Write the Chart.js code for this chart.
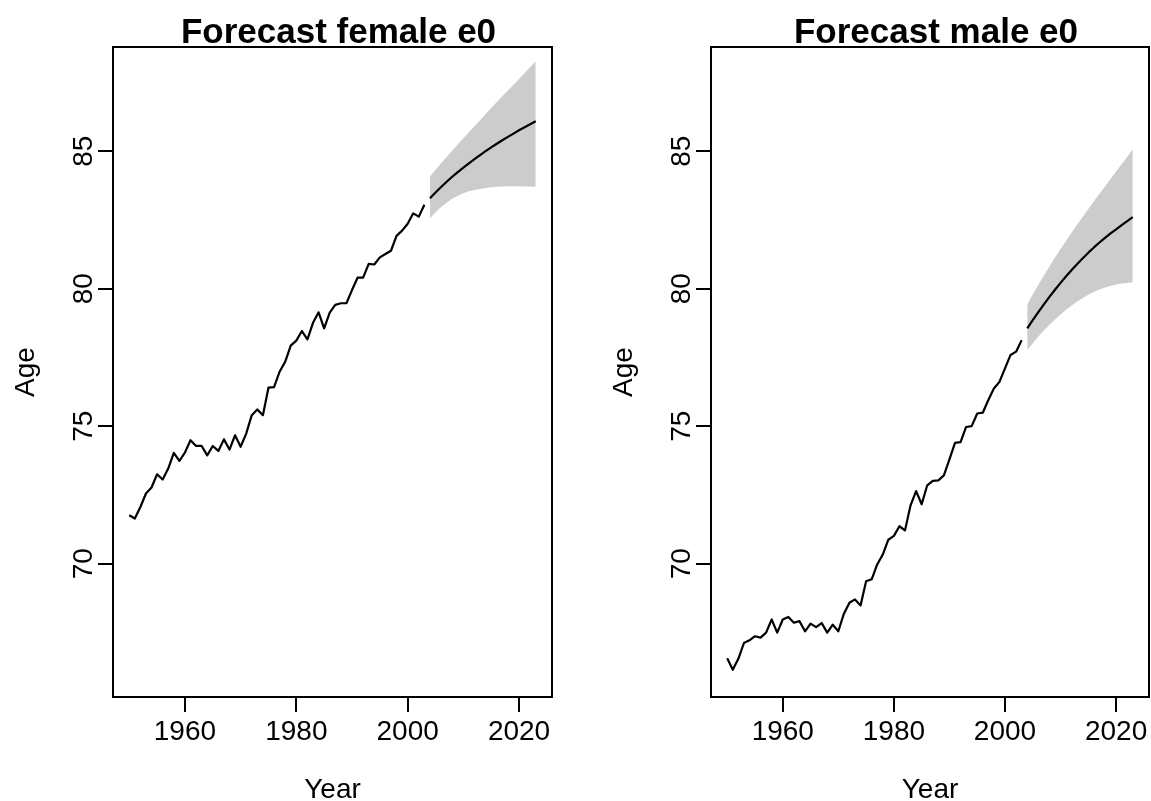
<!DOCTYPE html>
<html>
<head>
<meta charset="utf-8">
<script src="https://cdn.jsdelivr.net/npm/chart.js@4/dist/chart.umd.min.js"></script>
<style>
  html, body { margin: 0; padding: 0; background: #fff; }
  body { width: 1151px; height: 801px; position: relative; overflow: hidden; }
  canvas { position: absolute; top: 0; }
</style>
</head>
<body>
<canvas id="c1" width="576" height="801" style="left:0px"></canvas>
<canvas id="c2" width="575" height="801" style="left:576px"></canvas>
<script>
// ---------------- data ----------------
const histStart = 1950;
const fcStart = 2004;

const femaleHist = [
  71.76, 71.64, 72.06, 72.55, 72.77, 73.25, 73.06, 73.46, 74.03, 73.74,
  74.04, 74.49, 74.28, 74.28, 73.94, 74.28, 74.10, 74.52, 74.15, 74.67,
  74.25, 74.73, 75.40, 75.61, 75.40, 76.40, 76.42, 76.98, 77.34, 77.93,
  78.11, 78.46, 78.16, 78.76, 79.14, 78.56, 79.13, 79.41, 79.47, 79.47,
  79.95, 80.40, 80.40, 80.90, 80.88, 81.14, 81.26, 81.38, 81.92, 82.11,
  82.36, 82.74, 82.62, 83.05
];
const femaleMean = [
  83.29, 83.50, 83.70, 83.89, 84.07, 84.24, 84.40, 84.56, 84.71, 84.86,
  85.00, 85.14, 85.27, 85.40, 85.52, 85.64, 85.76, 85.87, 85.98, 86.09
];
const femaleUpper = [
  84.08, 84.32, 84.56, 84.79, 85.02, 85.25, 85.47, 85.69, 85.91, 86.13,
  86.35, 86.57, 86.79, 87.00, 87.21, 87.42, 87.63, 87.84, 88.06, 88.27
];
const femaleLower = [
  82.56, 82.78, 82.97, 83.13, 83.27, 83.38, 83.47, 83.54, 83.59, 83.63,
  83.66, 83.69, 83.71, 83.72, 83.73, 83.73, 83.73, 83.72, 83.72, 83.71
];

const maleHist = [
  66.56, 66.14, 66.54, 67.11, 67.21, 67.36, 67.31, 67.49, 67.97, 67.49,
  67.97, 68.06, 67.85, 67.91, 67.54, 67.82, 67.69, 67.84, 67.49, 67.78,
  67.54, 68.18, 68.58, 68.70, 68.48, 69.36, 69.43, 69.97, 70.33, 70.87,
  71.01, 71.36, 71.21, 72.12, 72.64, 72.16, 72.85, 73.01, 73.03, 73.21,
  73.79, 74.39, 74.42, 74.97, 75.00, 75.46, 75.49, 75.95, 76.37, 76.61,
  77.10, 77.59, 77.71, 78.13
];
const maleMean = [
  78.56, 78.86, 79.15, 79.43, 79.70, 79.96, 80.21, 80.45, 80.68, 80.90,
  81.11, 81.31, 81.50, 81.68, 81.85, 82.01, 82.16, 82.31, 82.46, 82.60
];
const maleUpper = [
  79.43, 79.79, 80.14, 80.48, 80.81, 81.13, 81.44, 81.74, 82.04, 82.33,
  82.62, 82.90, 83.18, 83.45, 83.72, 83.99, 84.26, 84.53, 84.80, 85.07
];
const maleLower = [
  77.77, 78.02, 78.26, 78.48, 78.69, 78.88, 79.06, 79.23, 79.39, 79.53,
  79.66, 79.78, 79.88, 79.97, 80.04, 80.10, 80.15, 80.19, 80.21, 80.23
];

const xTicks = [1960, 1980, 2000, 2020];
const yTicks = [70, 75, 80, 85];
const titles = ["Forecast female e0", "Forecast male e0"];
const xTitle = "Year";
const yTitle = "Age";

// ---------------- drawing ----------------
const FONT = '"Liberation Sans", Arial, Helvetica, sans-serif';

function pts(start, arr) {
  return arr.map((v, i) => ({ x: start + i, y: v }));
}

const decoPlugin = {
  id: 'deco',
  afterDraw(chart) {
    const { ctx, chartArea: a, scales } = chart;
    const xs = scales.x, ys = scales.y;
    const o = chart.options.plugins.deco;
    ctx.save();
    // box
    ctx.strokeStyle = '#000';
    ctx.lineWidth = 2;
    ctx.strokeRect(a.left, a.top, a.right - a.left, a.bottom - a.top);
    ctx.fillStyle = '#000';
    // title
    ctx.font = 'bold 35px ' + FONT;
    ctx.textAlign = 'center';
    ctx.textBaseline = 'alphabetic';
    ctx.fillText(o.title, (a.left + a.right) / 2 + 6, 43);
    // x tick labels
    ctx.font = '28px ' + FONT;
    xTicks.forEach(v => {
      ctx.fillText(String(v), xs.getPixelForValue(v), a.bottom + 43);
    });
    // x title
    ctx.fillText(xTitle, (a.left + a.right) / 2, 798);
    // y tick labels (rotated)
    yTicks.forEach(v => {
      ctx.save();
      ctx.translate(a.left - 21, ys.getPixelForValue(v));
      ctx.rotate(-Math.PI / 2);
      ctx.fillText(String(v), 0, 0);
      ctx.restore();
    });
    // y title
    ctx.save();
    ctx.translate(a.left - 79, (a.top + a.bottom) / 2);
    ctx.rotate(-Math.PI / 2);
    ctx.fillText(yTitle, 0, 0);
    ctx.restore();
    ctx.restore();
  }
};

function makeChart(id, title, hist, mean, upper, lower, leftW, rightPad) {
  const ctx = document.getElementById(id).getContext('2d');
  return new Chart(ctx, {
    type: 'line',
    data: {
      datasets: [
        { data: pts(histStart, hist), borderColor: '#000', borderWidth: 2.2,
          pointRadius: 0, fill: false, tension: 0, order: 1, borderJoinStyle: 'round' },
        { data: pts(fcStart, mean), borderColor: '#000', borderWidth: 2.2,
          pointRadius: 0, fill: false, tension: 0, order: 1, borderJoinStyle: 'round' },
        { data: pts(fcStart, upper), borderWidth: 0, borderColor: 'rgba(0,0,0,0)',
          backgroundColor: '#CCCCCC', pointRadius: 0, fill: '+1', tension: 0, order: 2 },
        { data: pts(fcStart, lower), borderWidth: 0, borderColor: 'rgba(0,0,0,0)',
          backgroundColor: '#CCCCCC', pointRadius: 0, fill: false, tension: 0, order: 2 }
      ]
    },
    options: {
      responsive: false,
      animation: false,
      devicePixelRatio: 1,
      layout: { padding: { left: 0, top: 47, right: rightPad, bottom: 0 } },
      plugins: {
        legend: { display: false },
        title: { display: false },
        tooltip: { enabled: false },
        deco: { title: title }
      },
      scales: {
        x: {
          type: 'linear', min: 1947.08, max: 2025.92,
          afterBuildTicks: s => { s.ticks = xTicks.map(v => ({ value: v })); },
          afterFit: s => { s.height = 104; },
          ticks: { display: false },
          border: { display: false },
          grid: { display: true, drawOnChartArea: false, drawTicks: true,
                  tickLength: 15, lineWidth: 2, color: '#000' }
        },
        y: {
          type: 'linear', min: 65.15, max: 88.79,
          afterBuildTicks: s => { s.ticks = yTicks.map(v => ({ value: v })); },
          afterFit: s => { s.width = leftW; },
          ticks: { display: false },
          border: { display: false },
          grid: { display: true, drawOnChartArea: false, drawTicks: true,
                  tickLength: 15, lineWidth: 2, color: '#000' }
        }
      }
    },
    plugins: [decoPlugin]
  });
}

makeChart('c1', titles[0], femaleHist, femaleMean, femaleUpper, femaleLower, 113, 24);
makeChart('c2', titles[1], maleHist, maleMean, maleUpper, maleLower, 135, 2);
</script>
</body>
</html>
